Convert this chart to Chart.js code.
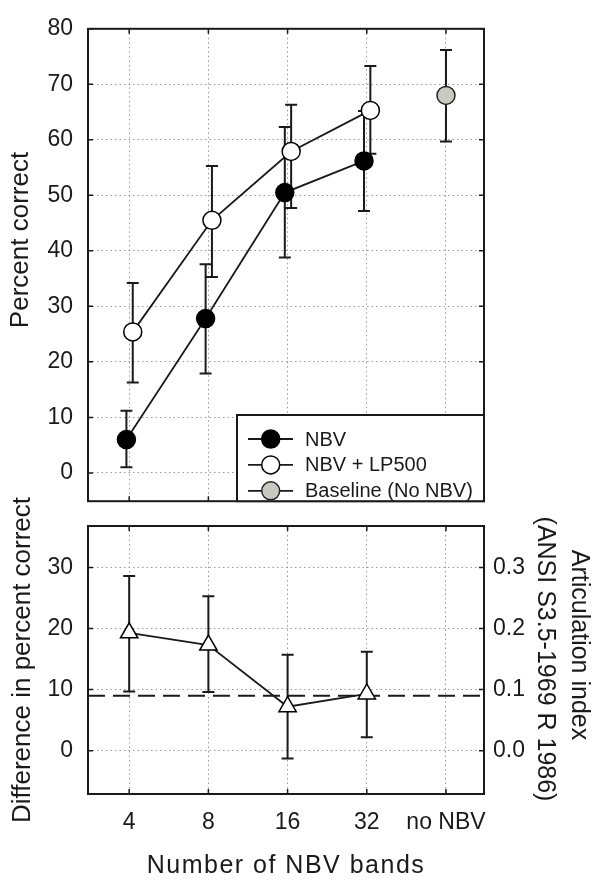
<!DOCTYPE html>
<html>
<head>
<meta charset="utf-8">
<title>NBV bands</title>
<script src="https://cdn.jsdelivr.net/npm/chart.js@4.4.1/dist/chart.umd.min.js"></script>
<style>
    html, body { margin: 0; padding: 0; background: #fff; }
    #wrap { position: relative; width: 601px; height: 881px; overflow: hidden; }
    #topBox { position: absolute; left: 0; top: 0; width: 601px; height: 530px; }
    #bottomBox { position: absolute; left: 0; top: 470px; width: 601px; height: 411px; }
</style>
</head>
<body>
<div id="wrap">
    <div id="topBox"><canvas id="topChart"></canvas></div>
    <div id="bottomBox"><canvas id="bottomChart"></canvas></div>
</div>
<script>
/* ===============================
   DATA
=================================*/

const bandLabels = ["4", "8", "16", "32", "no NBV"];

const nbvMean = [6.0, 27.8, 50.5, 56.2];
const nbvLow  = [1.0, 17.9, 38.8, 47.2];
const nbvHigh = [11.2, 37.6, 62.3, 65.2];

const lpMean = [25.4, 45.5, 57.9, 65.3];
const lpLow  = [16.3, 35.3, 47.7, 57.5];
const lpHigh = [34.2, 55.3, 66.3, 73.3];

const baseMean = [68.0];
const baseLow  = [59.7];
const baseHigh = [76.2];

const diffMean = [19.3, 17.3, 7.2, 9.3];
const diffLow  = [9.7, 9.6, -1.3, 2.2];
const diffHigh = [28.6, 25.3, 15.7, 16.2];

const aiLevel = 9.0;

const topTicks = [0, 10, 20, 30, 40, 50, 60, 70, 80];
const diffTicks = [0, 10, 20, 30];
const aiTicks = [0, 0.1, 0.2, 0.3];

/* ===============================
   STYLE
=================================*/

const FONT = '"Liberation Sans", Arial, Helvetica, sans-serif';
const INK = "#1a1a1a";
const GRID = "#9a9a9a";
const X_MIN = -0.52, X_MAX = 4.48;
const NBV_SHIFT = -0.035, LP_SHIFT = 0.045;
const BOTTOM_TOP = 470;   // page offset of the lower canvas

Chart.defaults.font.family = FONT;
Chart.defaults.color = INK;

function pts(values, shift, start = 0) {
    return values.map((v, i) => ({ x: start + i + shift, y: v }));
}

/* ===============================
   PLUGINS
=================================*/

const errorBars = {
    id: "errorBars",
    beforeDatasetsDraw(chart) {
        const { ctx } = chart;
        const yScale = chart.scales.y;
        chart.data.datasets.forEach((ds, i) => {
            if (!ds.errLow) return;
            const meta = chart.getDatasetMeta(i);
            ctx.save();
            ctx.strokeStyle = INK;
            ctx.lineWidth = 2;
            meta.data.forEach((pt, j) => {
                const yLo = yScale.getPixelForValue(ds.errLow[j]);
                const yHi = yScale.getPixelForValue(ds.errHigh[j]);
                ctx.beginPath();
                ctx.moveTo(pt.x, yLo); ctx.lineTo(pt.x, yHi);
                ctx.moveTo(pt.x - 6, yLo); ctx.lineTo(pt.x + 6, yLo);
                ctx.moveTo(pt.x - 6, yHi); ctx.lineTo(pt.x + 6, yHi);
                ctx.stroke();
            });
            ctx.restore();
        });
    }
};

const frameBox = {
    id: "frameBox",
    afterDatasetsDraw(chart) {
        const { ctx, chartArea: a } = chart;
        const xs = chart.scales.x, ys = chart.scales.y;
        ctx.save();
        ctx.strokeStyle = INK;
        ctx.lineWidth = 1.5;
        ctx.beginPath();
        xs.ticks.forEach(t => {
            const px = xs.getPixelForValue(t.value);
            ctx.moveTo(px, a.top); ctx.lineTo(px, a.top + 5);
            ctx.moveTo(px, a.bottom); ctx.lineTo(px, a.bottom - 5);
        });
        ys.ticks.forEach(t => {
            const py = ys.getPixelForValue(t.value);
            ctx.moveTo(a.left, py); ctx.lineTo(a.left + 5, py);
            ctx.moveTo(a.right, py); ctx.lineTo(a.right - 5, py);
        });
        ctx.stroke();
        ctx.lineWidth = 2;
        ctx.strokeRect(a.left, a.top, a.right - a.left, a.bottom - a.top);
        ctx.restore();
    }
};

const legendBox = {
    id: "legendBox",
    afterDraw(chart) {
        const { ctx, chartArea: a } = chart;
        const x0 = 237, y0 = 415;
        ctx.save();
        ctx.fillStyle = "#fff";
        ctx.fillRect(x0, y0, a.right - x0, a.bottom - y0);
        ctx.strokeStyle = INK;
        ctx.lineWidth = 2;
        ctx.strokeRect(x0, y0, a.right - x0, a.bottom - y0);

        chart.data.datasets.forEach((ds, i) => {
            const y = y0 + 24 + i * 25.9;
            ctx.lineWidth = 1.8;
            ctx.beginPath();
            ctx.moveTo(248, y); ctx.lineTo(293, y);
            ctx.stroke();
            ctx.beginPath();
            ctx.arc(270.7, y, 9, 0, Math.PI * 2);
            ctx.fillStyle = ds.pointBackgroundColor;
            ctx.fill();
            ctx.lineWidth = 1.5;
            ctx.strokeStyle = ds.pointBorderColor;
            ctx.stroke();
            ctx.strokeStyle = INK;
            ctx.fillStyle = INK;
            ctx.font = "20px " + FONT;
            ctx.textAlign = "left";
            ctx.textBaseline = "middle";
            ctx.fillText(ds.label, 305, y + 1);
        });
        ctx.restore();
    }
};

function axisTitles(list) {
    return {
        id: "axisTitles",
        afterDraw(chart) {
            const { ctx } = chart;
            list.forEach(t => {
                ctx.save();
                ctx.translate(t.x, t.y);
                ctx.rotate(t.rot);
                ctx.font = t.size + "px " + FONT;
                if (t.spacing) ctx.letterSpacing = t.spacing + "px";
                ctx.fillStyle = INK;
                ctx.textAlign = "center";
                ctx.textBaseline = "alphabetic";
                ctx.fillText(t.text, 0, 0);
                ctx.restore();
            });
        }
    };
}

/* ===============================
   SHARED OPTIONS
=================================*/

function xScale(showLabels) {
    return {
        type: "linear",
        min: X_MIN,
        max: X_MAX,
        afterBuildTicks: s => { s.ticks = bandLabels.map((_, i) => ({ value: i })); },
        afterFit: s => { s.height = showLabels ? 87 : 0; },
        grid: { color: GRID, lineWidth: 1, drawTicks: false },
        border: { display: false, dash: [1.5, 3] },
        ticks: {
            display: showLabels,
            padding: 15,
            font: { size: 23 },
            callback: v => bandLabels[v]
        }
    };
}

function yScale(min, max, ticks) {
    return {
        min,
        max,
        afterBuildTicks: s => { s.ticks = ticks.map(v => ({ value: v })); },
        afterFit: s => { s.width = 88; },
        grid: { color: GRID, lineWidth: 1, drawTicks: false },
        border: { display: false, dash: [1.5, 3] },
        ticks: { padding: 15, font: { size: 23 } }
    };
}

const baseOptions = {
    responsive: true,
    maintainAspectRatio: false,
    devicePixelRatio: 1,
    animation: false,
    events: [],
    plugins: { legend: { display: false }, tooltip: { enabled: false } }
};

/* ===============================
   TOP PANEL
=================================*/

new Chart(document.getElementById("topChart"), {
    type: "line",
    data: {
        datasets: [
            {
                label: "NBV",
                data: pts(nbvMean, NBV_SHIFT),
                errLow: nbvLow, errHigh: nbvHigh,
                borderColor: INK, borderWidth: 1.8,
                pointRadius: 9, pointBorderWidth: 1.5,
                pointBackgroundColor: "#000", pointBorderColor: "#000"
            },
            {
                label: "NBV + LP500",
                data: pts(lpMean, LP_SHIFT),
                errLow: lpLow, errHigh: lpHigh,
                borderColor: INK, borderWidth: 1.8,
                pointRadius: 9, pointBorderWidth: 1.5,
                pointBackgroundColor: "#fff", pointBorderColor: "#000"
            },
            {
                label: "Baseline (No NBV)",
                data: pts(baseMean, 0, 4),
                errLow: baseLow, errHigh: baseHigh,
                borderColor: INK, borderWidth: 1.8,
                pointRadius: 9, pointBorderWidth: 1.5,
                pointBackgroundColor: "#c9c9c1", pointBorderColor: "#222"
            }
        ]
    },
    options: {
        ...baseOptions,
        layout: { padding: { top: 18.5, right: 117, bottom: 18, left: 0 } },
        scales: {
            x: xScale(false),
            y: yScale(-5.1, 80, topTicks)
        }
    },
    plugins: [
        errorBars, frameBox, legendBox,
        axisTitles([{ text: "Percent correct", x: 28, y: 240, rot: -Math.PI / 2, size: 26 }])
    ]
});

/* ===============================
   BOTTOM PANEL
=================================*/

new Chart(document.getElementById("bottomChart"), {
    type: "line",
    data: {
        datasets: [
            {
                label: "Difference",
                data: pts(diffMean, 0),
                errLow: diffLow, errHigh: diffHigh,
                borderColor: INK, borderWidth: 1.8,
                pointStyle: "triangle", pointRadius: 10, pointBorderWidth: 1.5,
                pointBackgroundColor: "#fff", pointBorderColor: "#000"
            },
            {
                label: "AI",
                data: [{ x: X_MIN, y: aiLevel }, { x: X_MAX, y: aiLevel }],
                borderColor: INK, borderWidth: 2, borderDash: [17, 8],
                pointRadius: 0
            }
        ]
    },
    options: {
        ...baseOptions,
        layout: { padding: { top: 526 - BOTTOM_TOP, right: 0, bottom: 0, left: 0 } },
        scales: {
            x: xScale(true),
            y: yScale(-7.1, 36.8, diffTicks),
            y2: {
                position: "right",
                min: -0.071,
                max: 0.368,
                afterBuildTicks: s => { s.ticks = aiTicks.map(v => ({ value: v })); },
                afterFit: s => { s.width = 117; },
                grid: { drawOnChartArea: false, drawTicks: false },
                border: { display: false },
                ticks: { padding: 9, font: { size: 23 }, callback: v => v.toFixed(1) }
            }
        }
    },
    plugins: [
        errorBars, frameBox,
        axisTitles([
            { text: "Difference in percent correct", x: 30, y: 660 - BOTTOM_TOP, rot: -Math.PI / 2, size: 26 },
            { text: "Articulation index", x: 572, y: 645 - BOTTOM_TOP, rot: Math.PI / 2, size: 25 },
            { text: "(ANSI S3.5-1969 R 1986)", x: 538, y: 659 - BOTTOM_TOP, rot: Math.PI / 2, size: 25 },
            { text: "Number of NBV bands", x: 286, y: 872.7 - BOTTOM_TOP, rot: 0, size: 25, spacing: 1.5 }
        ])
    ]
});
</script>
</body>
</html>
